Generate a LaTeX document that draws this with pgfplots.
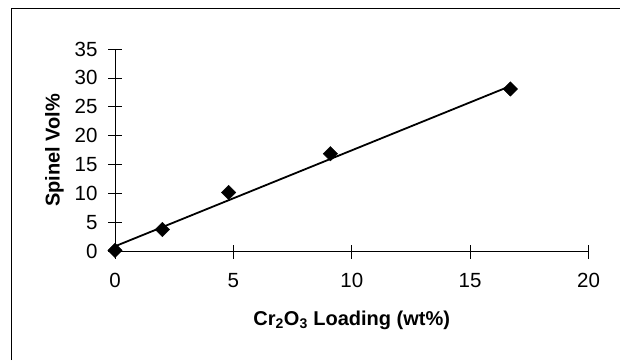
\documentclass[border=0pt]{standalone}
\usepackage{fontspec}
\setmainfont{Liberation Sans}
\usepackage{pgfplots}
\pgfplotsset{compat=1.18}
\newcommand{\tickfont}{\fontsize{20.5}{24}\selectfont}
\begin{document}
\begin{tikzpicture}[x=1pt,y=1pt]
\useasboundingbox (0,0) rectangle (620,360);
\draw[line width=0.9pt] (11.7,0) -- (11.7,351.7) -- (620,351.7);
\begin{axis}[
  at={(115pt,108.5pt)}, anchor=south west,
  scale only axis, width=473.5pt, height=202.5pt,
  xmin=0, xmax=20, ymin=0, ymax=35,
  axis lines=left,
  axis line style={line width=0.8pt, -},
  xtick={0,5,10,15,20}, ytick={0,5,10,15,20,25,30,35},
  tick align=center, major tick length=14pt,
  tick style={line width=0.8pt, black},
  /pgf/number format/assume math mode=true,
  xticklabel={\tickfont\pgfmathprintnumber{\tick}},
  yticklabel={\tickfont\pgfmathprintnumber{\tick}},
  xticklabel style={yshift=-11pt},
  yticklabel style={xshift=-7pt},
  xlabel={\textbf{Cr\textsubscript{2}O\textsubscript{3} Loading (wt\%)}},
  ylabel={\textbf{Spinel Vol\%}},
  label style={font=\fontsize{20}{24}\selectfont},
  xlabel style={at={(axis description cs:0.5,-0.338)}, anchor=center},
  ylabel style={at={(axis description cs:-0.128,0.5)}, anchor=center, rotate=0},
  clip=false,
]
\addplot[black, line width=1.8pt] coordinates {(0,0.9) (16.7,28.6)};
\addplot[only marks, mark=square*, mark size=5.1pt, mark options={rotate=45, fill=black, draw=black}]
  coordinates {(0,0.2) (2,3.8) (4.8,10.2) (9.1,16.9) (16.7,28.1)};
\end{axis}
\end{tikzpicture}
\end{document}
